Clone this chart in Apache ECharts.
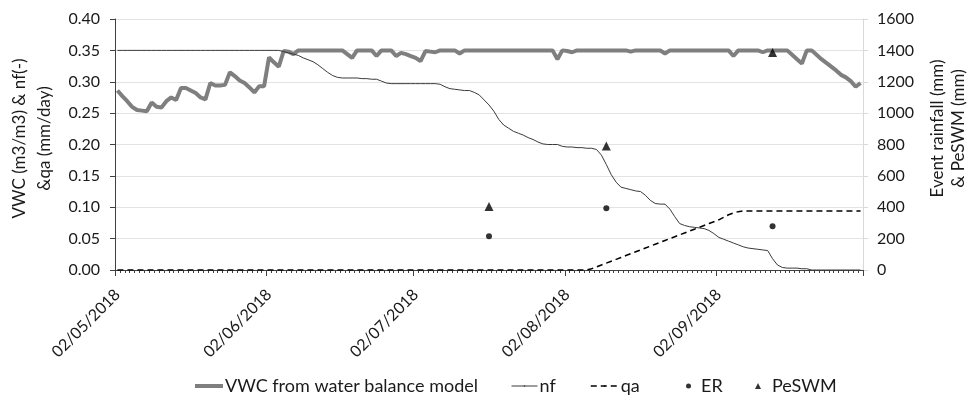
<!DOCTYPE html>
<html>
<head>
<meta charset="utf-8">
<script src="https://cdn.jsdelivr.net/npm/echarts@6/dist/echarts.min.js"></script>
<style>
  html, body { margin: 0; padding: 0; background: #fff; }
  #chart { width: 968px; height: 402px; }
</style>
</head>
<body>
<div id="chart"></div>
<script>
// Daily values from 02/05/2018 to 01/10/2018
const startDate = new Date(2018, 4, 2);
const dayCount = 153;

// Volumetric water content from the water balance model (m3/m3)
const vwc = [
  0.286, 0.277, 0.269, 0.260, 0.255, 0.254, 0.253, 0.267, 0.260, 0.259,
  0.269, 0.275, 0.271, 0.290, 0.290, 0.286, 0.282, 0.275, 0.272, 0.298,
  0.294, 0.294, 0.295, 0.315, 0.309, 0.302, 0.298, 0.291, 0.283, 0.293,
  0.293, 0.339, 0.331, 0.324, 0.349, 0.348, 0.344, 0.350, 0.350, 0.350,
  0.350, 0.350, 0.350, 0.350, 0.350, 0.350, 0.350, 0.344, 0.338, 0.350,
  0.350, 0.350, 0.350, 0.341, 0.350, 0.350, 0.350, 0.341, 0.346, 0.344,
  0.341, 0.338, 0.333, 0.349, 0.348, 0.347, 0.350, 0.350, 0.350, 0.350,
  0.345, 0.350, 0.350, 0.350, 0.350, 0.350, 0.350, 0.350, 0.350, 0.350,
  0.350, 0.350, 0.350, 0.350, 0.350, 0.350, 0.350, 0.350, 0.350, 0.350,
  0.336, 0.350, 0.349, 0.347, 0.350, 0.350, 0.350, 0.350, 0.350, 0.350,
  0.350, 0.350, 0.350, 0.350, 0.350, 0.348, 0.350, 0.350, 0.350, 0.350,
  0.350, 0.350, 0.345, 0.350, 0.350, 0.350, 0.350, 0.350, 0.350, 0.350,
  0.350, 0.350, 0.350, 0.350, 0.350, 0.350, 0.341, 0.350, 0.350, 0.350,
  0.350, 0.350, 0.347, 0.350, 0.350, 0.350, 0.350, 0.350, 0.343, 0.336,
  0.329, 0.350, 0.350, 0.343, 0.336, 0.330, 0.324, 0.318, 0.311, 0.307,
  0.301, 0.292, 0.298
];

// nf (-)
const nf = [
  0.350, 0.350, 0.350, 0.350, 0.350, 0.350, 0.350, 0.350, 0.350, 0.350,
  0.350, 0.350, 0.350, 0.350, 0.350, 0.350, 0.350, 0.350, 0.350, 0.350,
  0.350, 0.350, 0.350, 0.350, 0.350, 0.350, 0.350, 0.350, 0.350, 0.350,
  0.350, 0.350, 0.350, 0.350, 0.348, 0.346, 0.344, 0.342, 0.338, 0.335,
  0.332, 0.327, 0.321, 0.315, 0.310, 0.307, 0.306, 0.306, 0.306, 0.306,
  0.305, 0.305, 0.304, 0.304, 0.301, 0.298, 0.297, 0.297, 0.297, 0.297,
  0.297, 0.297, 0.297, 0.297, 0.297, 0.297, 0.296, 0.292, 0.289, 0.288,
  0.287, 0.286, 0.286, 0.283, 0.279, 0.271, 0.263, 0.253, 0.240, 0.231,
  0.226, 0.221, 0.218, 0.215, 0.211, 0.208, 0.204, 0.201, 0.200, 0.200,
  0.200, 0.197, 0.196, 0.196, 0.195, 0.195, 0.194, 0.194, 0.192, 0.183,
  0.168, 0.152, 0.140, 0.132, 0.130, 0.128, 0.126, 0.125, 0.119, 0.111,
  0.106, 0.105, 0.105, 0.097, 0.085, 0.074, 0.071, 0.069, 0.068, 0.067,
  0.066, 0.063, 0.058, 0.052, 0.049, 0.046, 0.043, 0.040, 0.037, 0.035,
  0.034, 0.033, 0.032, 0.031, 0.018, 0.008, 0.004, 0.003, 0.003, 0.003,
  0.002, 0.002, 0.000, 0.000, 0.000, 0.000, 0.000, 0.000, 0.000, 0.000,
  0.000, 0.000, 0.000
];

// qa (mm/day)
const qa = [
  0, 0, 0, 0, 0, 0, 0, 0, 0, 0,
  0, 0, 0, 0, 0, 0, 0, 0, 0, 0,
  0, 0, 0, 0, 0, 0, 0, 0, 0, 0,
  0, 0, 0, 0, 0, 0, 0, 0, 0, 0,
  0, 0, 0, 0, 0, 0, 0, 0, 0, 0,
  0, 0, 0, 0, 0, 0, 0, 0, 0, 0,
  0, 0, 0, 0, 0, 0, 0, 0, 0, 0,
  0, 0, 0, 0, 0, 0, 0, 0, 0, 0,
  0, 0, 0, 0, 0, 0, 0, 0, 0, 0,
  0, 0, 0, 0, 0, 0, 0, 0.002, 0.005, 0.008,
  0.011, 0.014, 0.017, 0.020, 0.023, 0.026, 0.029, 0.032, 0.035, 0.038,
  0.041, 0.044, 0.047, 0.050, 0.053, 0.056, 0.059, 0.062, 0.065, 0.068,
  0.071, 0.074, 0.077, 0.080, 0.084, 0.088, 0.091, 0.093, 0.094, 0.094,
  0.094, 0.094, 0.094, 0.094, 0.094, 0.094, 0.094, 0.094, 0.094, 0.094,
  0.094, 0.094, 0.094, 0.094, 0.094, 0.094, 0.094, 0.094, 0.094, 0.094,
  0.094, 0.094, 0.094
];

// Rainfall events (right axis, mm)
const eventDates = ['17/07/2018', '10/08/2018', '13/09/2018'];
const erValues = [215, 394, 279];
const peswmValues = [405, 791, 1386];

// Axis ticks
const leftTicks = { min: 0, max: 0.4, interval: 0.05 };
const rightTicks = { min: 0, max: 1600, interval: 200 };

function pad(n) { return n < 10 ? '0' + n : '' + n; }
const dates = [];
for (let i = 0; i < dayCount; i++) {
  const d = new Date(startDate.getFullYear(), startDate.getMonth(), startDate.getDate() + i);
  dates.push(pad(d.getDate()) + '/' + pad(d.getMonth() + 1) + '/' + d.getFullYear());
}
const isMonthMark = (idx) => idx < dates.length && dates[idx].startsWith('02/');

const FONT = 'Lato';
const TEXT = '#1a1a1a';
const LEGEND_TOP = 372;

// One legend block per entry so each sits at its own place along the bottom row
function legendEntry(item, left, opts) {
  return Object.assign({
    data: [item], left: left, top: LEGEND_TOP,
    itemWidth: 28, itemHeight: 2,
    textStyle: { fontFamily: FONT, fontSize: 18, color: TEXT, padding: [0, 0, 0, -3] }
  }, opts || {});
}

const chart = echarts.init(document.getElementById('chart'), null, { renderer: 'canvas' });
chart.setOption({
  animation: false,
  backgroundColor: '#ffffff',
  textStyle: { fontFamily: FONT, color: TEXT },
  grid: { left: 115, right: 105, top: 19, bottom: 132, containLabel: false, outerBoundsMode: 'none' },
  legend: [
    legendEntry({ name: 'VWC from water balance model', lineStyle: { width: 4 } }, 188),
    legendEntry({ name: 'nf', lineStyle: { width: 1 } }, 506, { itemWidth: 26 }),
    legendEntry({ name: 'qa', lineStyle: { width: 1.5 } }, 585),
    legendEntry({ name: 'ER', icon: 'circle' }, 681, {
      itemWidth: 5, itemHeight: 5,
      textStyle: { fontFamily: FONT, fontSize: 18, color: TEXT, padding: [0, 0, 0, 5] }
    }),
    legendEntry({ name: 'PeSWM', icon: 'triangle' }, 750, {
      itemWidth: 6, itemHeight: 6,
      textStyle: { fontFamily: FONT, fontSize: 18, color: TEXT, padding: [0, 0, 0, 6] }
    })
  ],
  xAxis: [
    {
      type: 'category',
      data: dates,
      boundaryGap: true,
      axisLine: { show: true, lineStyle: { color: '#404040', width: 1 } },
      axisTick: { show: true, interval: 0, length: 3, lineStyle: { color: '#404040' } },
      axisLabel: {
        interval: (idx) => isMonthMark(idx),
        rotate: 45, margin: 22,
        padding: [10, 0, 0, 0],
        fontFamily: FONT, fontSize: 16, color: TEXT
      },
      splitLine: { show: false }
    },
    {
      type: 'category',
      data: dates,
      boundaryGap: true,
      position: 'bottom',
      axisLine: { show: false },
      axisTick: { show: true, interval: (idx) => isMonthMark(idx), length: 6, lineStyle: { color: '#404040' } },
      axisLabel: { show: false },
      splitLine: { show: false }
    }
  ],
  yAxis: [
    {
      type: 'value',
      min: leftTicks.min, max: leftTicks.max, interval: leftTicks.interval,
      position: 'left',
      name: 'VWC (m3/m3) & nf(-)\n&qa (mm/day)',
      nameLocation: 'middle', nameRotate: 90, nameGap: 46,
      nameTextStyle: { fontFamily: FONT, fontSize: 17, color: TEXT, lineHeight: 25, align: 'center', padding: [0, 0, 0, 12] },
      axisLine: { show: true, lineStyle: { color: '#404040', width: 1 } },
      axisTick: { show: true, length: 5, lineStyle: { color: '#404040' } },
      axisLabel: { margin: 15, fontFamily: FONT, fontSize: 16, color: TEXT, formatter: (v) => v.toFixed(2) },
      splitLine: { show: true, lineStyle: { color: '#e3e3e3', width: 1 } }
    },
    {
      type: 'value',
      min: rightTicks.min, max: rightTicks.max, interval: rightTicks.interval,
      position: 'right',
      name: 'Event rainfall (mm)\n& PeSWM (mm)',
      nameLocation: 'middle', nameRotate: 90, nameGap: 64,
      nameTextStyle: { fontFamily: FONT, fontSize: 17, color: TEXT, lineHeight: 21, align: 'center', padding: [0, 0, 0, 32] },
      axisLine: { show: true, lineStyle: { color: '#d9d9d9', width: 1 } },
      axisTick: { show: true, length: 5, lineStyle: { color: '#d9d9d9' } },
      axisLabel: { margin: 14, fontFamily: FONT, fontSize: 16, color: TEXT, formatter: (v) => String(v) },
      splitLine: { show: false }
    }
  ],
  series: [
    {
      name: 'VWC from water balance model',
      type: 'line', data: vwc, yAxisIndex: 0,
      symbol: 'none', showSymbol: false,
      lineStyle: { color: '#7f7f7f', width: 4 },
      itemStyle: { color: '#7f7f7f' },
      z: 2
    },
    {
      name: 'nf',
      type: 'line', data: nf, yAxisIndex: 0,
      symbol: 'none', showSymbol: false,
      lineStyle: { color: '#3a3a3a', width: 1 },
      itemStyle: { color: '#3a3a3a' },
      z: 3
    },
    {
      name: 'qa',
      type: 'line', data: qa, yAxisIndex: 0,
      symbol: 'none', showSymbol: false,
      lineStyle: { color: '#000000', width: 1.5, type: [6, 4] },
      itemStyle: { color: '#000000' },
      z: 4
    },
    {
      name: 'ER',
      type: 'scatter', yAxisIndex: 1,
      data: eventDates.map((d, i) => [d, erValues[i]]),
      symbol: 'circle', symbolSize: 6,
      itemStyle: { color: '#000000' },
      z: 5
    },
    {
      name: 'PeSWM',
      type: 'scatter', yAxisIndex: 1,
      data: eventDates.map((d, i) => [d, peswmValues[i]]),
      symbol: 'triangle', symbolSize: 9,
      itemStyle: { color: '#000000' },
      z: 5
    }
  ]
});
</script>
</body>
</html>
